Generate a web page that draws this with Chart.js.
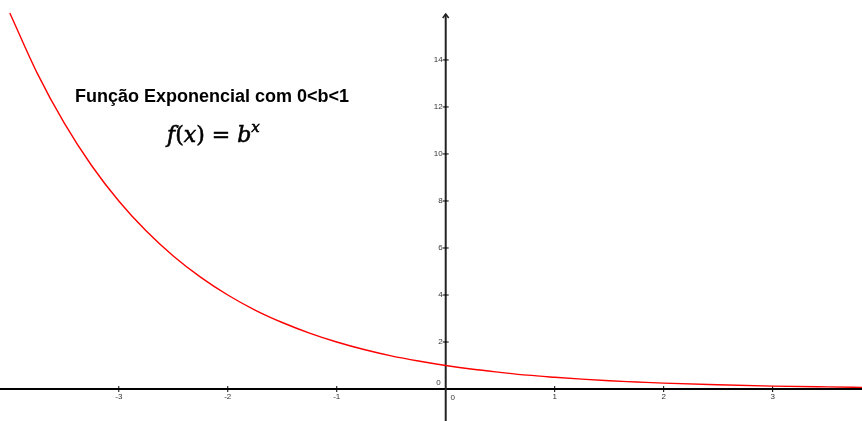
<!DOCTYPE html>
<html>
<head>
<meta charset="utf-8">
<script src="https://cdn.jsdelivr.net/npm/chart.js@4.4.0/dist/chart.umd.min.js"></script>
<style>
	html, body { margin:0; padding:0; background:#fff; }
	canvas { display:block; }
</style>
</head>
<body>
<canvas id="expChart" width="862" height="421"></canvas>
<script>
// valores
const xValues = [-4, -3.75, -3.5, -3.25, -3, -2.75, -2.5, -2.25, -2, -1.75, -1.5, -1.25, -1, -0.75, -0.5, -0.25, 0, 0.25, 0.5, 0.75, 1, 1.25, 1.5, 1.75, 2, 2.5, 3, 3.5, 3.85];
const yValues = [16, 13.45, 11.31, 9.51, 8, 6.73, 5.66, 4.76, 4, 3.36, 2.83, 2.38, 2, 1.68, 1.41, 1.19, 1, 0.84, 0.71, 0.59, 0.5, 0.42, 0.35, 0.30, 0.25, 0.18, 0.125, 0.09, 0.07];
const xTicks = [-3, -2, -1, 0, 1, 2, 3];
const yTicks = [0, 2, 4, 6, 8, 10, 12, 14];
const titleText = 'Função Exponencial com 0<b<1';

/**
 * eixos estilo geogebra + titulo
 */
const axesPlugin = {
	id: 'axesPlugin',
	beforeDatasetsDraw(chart) {
		const ctx = chart.ctx;
		const xs = chart.scales.x, ys = chart.scales.y;
		const x0 = xs.getPixelForValue(0), y0 = ys.getPixelForValue(0);
		const area = chart.chartArea;
		ctx.save();
		// eixo x
		ctx.strokeStyle = '#000';
		ctx.lineWidth = 2;
		ctx.beginPath();
		ctx.moveTo(area.left, y0); ctx.lineTo(area.right, y0);
		ctx.stroke();
		// eixo y
		ctx.strokeStyle = '#222';
		ctx.beginPath();
		ctx.moveTo(x0, area.bottom); ctx.lineTo(x0, 14);
		ctx.stroke();
		// seta
		ctx.lineWidth = 1.5;
		ctx.beginPath();
		ctx.moveTo(x0 - 3, 18); ctx.lineTo(x0, 14); ctx.lineTo(x0 + 3, 18);
		ctx.stroke();

		ctx.font = '8px "Liberation Sans", Arial, sans-serif';
		ctx.fillStyle = '#333';
		ctx.lineWidth = 1;
		ctx.strokeStyle = '#000';
		xTicks.forEach(v => {
			let px = xs.getPixelForValue(v);
			ctx.textAlign = 'center'; ctx.textBaseline = 'top';
			if (v !== 0) {
				ctx.beginPath(); ctx.moveTo(px, y0 - 3); ctx.lineTo(px, y0 + 3); ctx.stroke();
				ctx.fillText(String(v), px, y0 + 4);
			} else {
				ctx.fillText('0', px + 7, y0 + 5);
			}
		});
		yTicks.forEach(v => {
			let py = ys.getPixelForValue(v);
			ctx.textAlign = 'right'; ctx.textBaseline = 'middle';
			if (v !== 0) {
				ctx.beginPath(); ctx.moveTo(x0 - 3, py); ctx.lineTo(x0 + 3, py); ctx.stroke();
				ctx.fillText(String(v), x0 - 3, py);
			} else {
				ctx.fillText('0', x0 - 5, py - 6);
			}
		});

		// titulo
		ctx.fillStyle = '#000';
		ctx.textAlign = 'left'; ctx.textBaseline = 'alphabetic';
		ctx.font = 'bold 18px "Liberation Sans", Arial, sans-serif';
		ctx.fillText(titleText, 75, 102);

		// formula f(x) = b^x
		let fx = 167, fy = 142;
		const serif = '"DejaVu Serif", serif';
		const parts = [
			['f', 'italic 22px ' + serif, 0],
			['(', '22px ' + serif, 0],
			['x', 'italic 22px ' + serif, 0],
			[')', '22px ' + serif, 0],
			[' = ', '22px ' + serif, 0],
			['b', 'italic 22px ' + serif, 0],
			['x', 'italic 15px ' + serif, -10]
		];
		ctx.strokeStyle = '#000';
		ctx.lineWidth = 0.6;
		parts.forEach(p => {
			ctx.font = p[1];
			ctx.fillText(p[0], fx, fy + p[2]);
			ctx.strokeText(p[0], fx, fy + p[2]);
			fx += ctx.measureText(p[0]).width;
		});
		ctx.restore();
	}
};

let points = xValues.map((x, i) => ({x: x, y: yValues[i]}));

let chart = new Chart(document.getElementById('expChart'), {
	type: 'scatter',
	data: {
		datasets: [{
			data: points,
			showLine: true,
			borderColor: '#ff0000',
			borderWidth: 1.4,
			pointRadius: 0,
			cubicInterpolationMode: 'monotone',
			fill: false
		}]
	},
	options: {
		responsive: false,
		maintainAspectRatio: false,
		animation: false,
		events: [],
		layout: { padding: 0 },
		plugins: { legend: { display: false }, tooltip: { enabled: false } },
		scales: {
			x: { type: 'linear', min: -4.09, max: 3.82, display: false },
			y: { type: 'linear', min: -1.36, max: 16.55, display: false }
		}
	},
	plugins: [axesPlugin]
});
</script>
</body>
</html>
